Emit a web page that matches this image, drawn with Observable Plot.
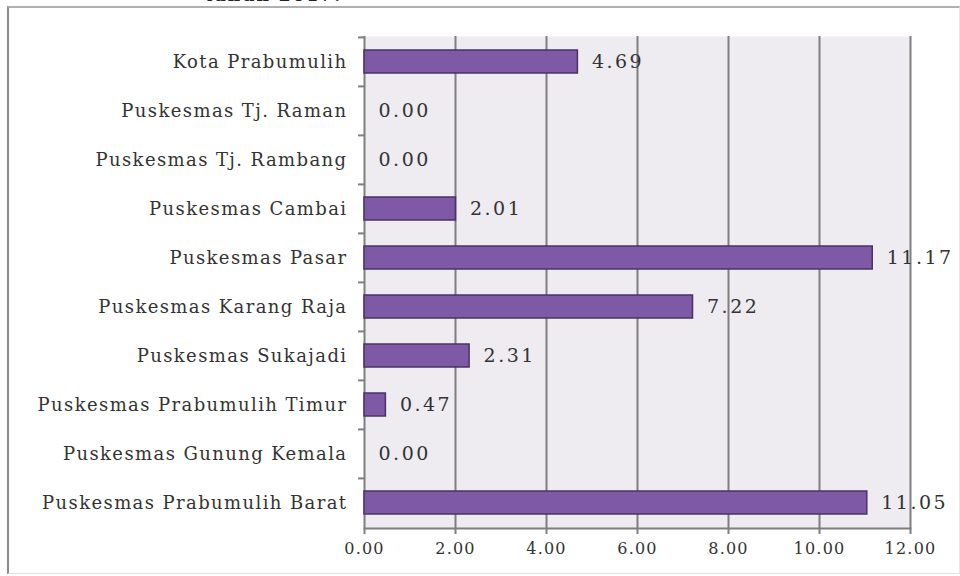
<!DOCTYPE html>
<html>
<head>
<meta charset="utf-8">
<script src="https://cdn.jsdelivr.net/npm/d3@7"></script>
<script src="https://cdn.jsdelivr.net/npm/@observablehq/plot@0.6"></script>
<style>
  html, body { margin: 0; padding: 0; background: #fff; }
  #wrap { position: relative; width: 960px; height: 576px; overflow: hidden; background: #fff; }
  #border { position: absolute; left: 7px; top: 6px; width: 950px; height: 565px;
            border-left: 2px solid #8a8a8a; border-top: 2px solid #b0b0b0;
            border-bottom: 1px solid #e0e0e0; border-right: 1px solid #e6e6e6; }
  #title { position: absolute; left: 205px; top: -15px; font-family: "DejaVu Serif", serif;
           font-weight: bold; font-size: 17px; letter-spacing: 2px; color: #222; white-space: nowrap; }
  #chart { position: absolute; left: 0; top: 0; }
  g[aria-label="y-axis tick label"] text { letter-spacing: 1.4px; }
  g[aria-label="x-axis tick label"] text { letter-spacing: 1.2px; }
  g[aria-label="text"] text { letter-spacing: 2.5px; }
</style>
</head>
<body>
<div id="wrap">
  <div id="border"></div>
  <div id="title">tahun 2017.</div>
  <div id="chart"></div>
</div>
<script>
const categories = [
  "Kota Prabumulih",
  "Puskesmas Tj. Raman",
  "Puskesmas Tj. Rambang",
  "Puskesmas Cambai",
  "Puskesmas Pasar",
  "Puskesmas Karang Raja",
  "Puskesmas Sukajadi",
  "Puskesmas Prabumulih Timur",
  "Puskesmas Gunung Kemala",
  "Puskesmas Prabumulih Barat"
];
const values = [4.69, 0.00, 0.00, 2.01, 11.17, 7.22, 2.31, 0.47, 0.00, 11.05];
const xTicks = [0, 2, 4, 6, 8, 10, 12];

const data = categories.map((name, i) => ({name, value: values[i]}));

const W = 960, H = 576, mT = 36, mB = 48;
const step = (H - mT - mB) / categories.length;

const chart = Plot.plot({
  width: W,
  height: H,
  marginLeft: 364,
  marginRight: 50,
  marginTop: mT,
  marginBottom: mB,
  style: {fontFamily: "'DejaVu Serif', serif", fontSize: "18px", color: "#333", background: "transparent"},
  x: {domain: [0, 12], ticks: xTicks, tickFormat: d3.format(".2f")},
  y: {domain: categories, paddingInner: 0.53, paddingOuter: 0.265, label: null},
  marks: [
    Plot.frame({fill: "#eeebf1", stroke: null}),
    Plot.gridX(xTicks.slice(1), {stroke: "#7f7f7f", strokeOpacity: 1, strokeWidth: 2}),
    Plot.ruleX([0], {stroke: "#7f7f7f", strokeWidth: 2}),
    Plot.frame({anchor: "bottom", stroke: "#7f7f7f", strokeWidth: 2}),
    Plot.ruleY(categories, {y: d => d, x1: -0.13, x2: 0, dy: -step / 2, stroke: "#7f7f7f", strokeWidth: 2}),
    Plot.barX(data.filter(d => d.value > 0), {x: "value", y: "name", fill: "#7d59a6", stroke: "#4a3364", strokeWidth: 1.5}),
    Plot.text(data, {x: "value", y: "name", text: d => d.value.toFixed(2), textAnchor: "start", dx: 14, fontSize: 19, fill: "#333"}),
    Plot.axisY({tickSize: 0, tickPadding: 17, fontSize: 18, fill: "#333", label: null}),
    Plot.axisX({ticks: xTicks, tickSize: 6, tickPadding: 8, fontSize: 16, stroke: "#7f7f7f", strokeWidth: 2, fill: "#333", label: null, tickFormat: d3.format(".2f")})
  ]
});
document.getElementById("chart").appendChild(chart);
</script>
</body>
</html>
